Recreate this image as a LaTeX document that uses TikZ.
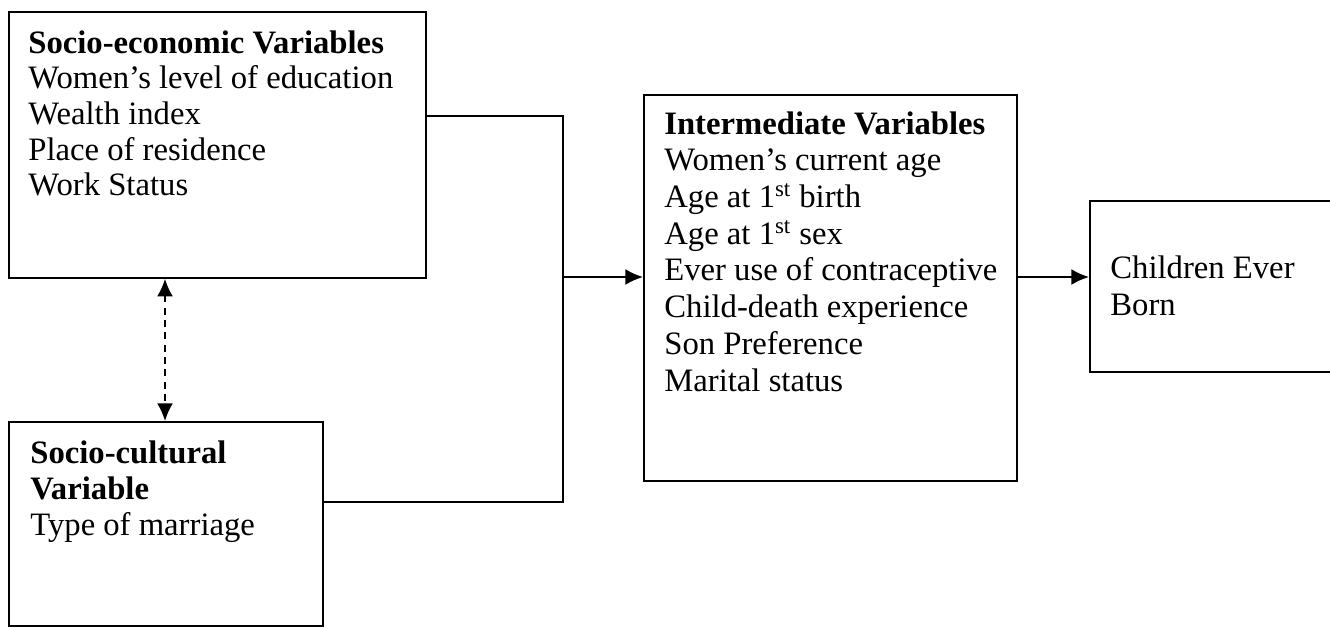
\documentclass[tikz,border=0pt]{standalone}
\usepackage{fontspec}
\setmainfont{Liberation Serif}
\usetikzlibrary{arrows.meta,positioning,calc}

\begin{document}
\begin{tikzpicture}[
    varbox/.style={draw, line width=1pt, inner sep=0pt, anchor=north west},
    vartext/.style={anchor=north west, align=left, inner sep=0pt,
                    font=\fontsize{18.6}{20.3}\selectfont},
    link/.style={line width=1pt},
    linkarrow/.style={line width=1pt, -{Latex[length=10pt,width=9pt]}},
    bothways/.style={line width=1pt, {Latex[length=10pt,width=9pt]}-{Latex[length=10pt,width=9pt]},
                     dash pattern=on 4pt off 3pt}
  ]
  \useasboundingbox (0,0) rectangle (26.6,-12.52);

  % Boxes
  \node[varbox, minimum width=8.34cm, minimum height=5.32cm] (econ) at (0.16,-0.22) {};
  \node[varbox, minimum width=6.28cm, minimum height=4.08cm] (cult) at (0.16,-8.42) {};
  \node[varbox, minimum width=7.46cm, minimum height=7.72cm] (inter) at (12.86,-1.88) {};
  \node[varbox, minimum width=4.95cm, minimum height=3.42cm] (ceb) at (21.78,-4.0) {};

  % Texts
  \node[vartext] (econtxt) at ([xshift=0.4cm, yshift=-0.38cm]econ.north west)
       {\textbf{Socio-economic Variables}\\
        Women’s level of education\\
        Wealth index\\
        Place of residence\\
        Work Status};
  \node[vartext, font=\fontsize{18.6}{20.7}\selectfont] (culttxt)
       at ([xshift=0.44cm, yshift=-0.38cm]cult.north west)
       {\textbf{Socio-cultural}\\
        \textbf{Variable}\\
        Type of marriage};
  \node[vartext, font=\fontsize{18.6}{20.9}\selectfont] (intertxt)
       at ([xshift=0.42cm, yshift=-0.34cm]inter.north west)
       {\textbf{Intermediate Variables}\\
        Women’s current age\\
        Age at 1\textsuperscript{st} birth\\
        Age at 1\textsuperscript{st} sex\\
        Ever use of contraceptive\\
        Child-death experience\\
        Son Preference\\
        Marital status};
  \node[vartext, font=\fontsize{18.6}{21.5}\selectfont] (cebtxt)
       at ([xshift=0.42cm, yshift=-1.10cm]ceb.north west)
       {Children Ever\\
        Born};

  % Connectors
  \coordinate (junction) at (11.26,-5.54);
  \draw[link] ($(econ.north east)+(0,-2.10)$) -| (junction);
  \draw[link] ($(cult.north east)+(0,-1.62)$) -| (junction);
  \draw[linkarrow] (junction) -- (junction -| inter.west);
  \draw[linkarrow] (inter.east |- junction) -- (ceb.west |- junction);
  \draw[bothways] ($(econ.south west)+(3.14,0)$) -- ($(cult.north west)+(3.14,0)$);
\end{tikzpicture}
\end{document}
